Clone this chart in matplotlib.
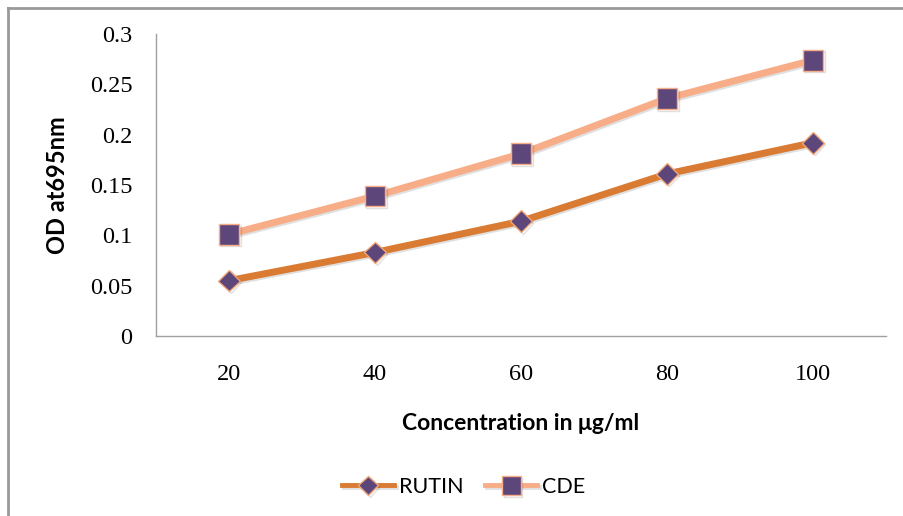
import matplotlib
matplotlib.use("Agg")
import matplotlib.pyplot as plt
from matplotlib.lines import Line2D
import matplotlib.patheffects as pe

concentrations = ["20", "40", "60", "80", "100"]
rutin = [0.055, 0.083, 0.114, 0.161, 0.192]
cde = [0.101, 0.139, 0.181, 0.236, 0.274]
y_ticks = [0, 0.05, 0.1, 0.15, 0.2, 0.25, 0.3]
y_tick_labels = ["0", "0.05", "0.1", "0.15", "0.2", "0.25", "0.3"]


def main():
    W, H = 904, 516
    fig = plt.figure(figsize=(W / 100, H / 100), dpi=100)
    ax = fig.add_axes([156 / W, 1 - 336 / H, 730 / W, 302 / H])

    # outer chart border (only top and left visible in the reference)
    fig.add_artist(Line2D([8 / W, 8 / W], [0, 1 - 8 / H], transform=fig.transFigure,
                          color="#999999", lw=2))
    fig.add_artist(Line2D([8 / W, 1], [1 - 8 / H, 1 - 8 / H], transform=fig.transFigure,
                          color="#999999", lw=2))

    x = range(len(concentrations))
    shadow = [pe.SimpleLineShadow(offset=(1.2, -1.2), alpha=0.12), pe.Normal()]
    ax.plot(x, rutin, color="#D97B32", lw=5, marker="D", ms=11,
            markerfacecolor="#5D467A", markeredgecolor="#F2A77A", markeredgewidth=1,
            label="RUTIN", path_effects=shadow, zorder=3)
    ax.plot(x, cde, color="#F7AE88", lw=5, marker="s", ms=15,
            markerfacecolor="#5D467A", markeredgecolor="#F7AE88", markeredgewidth=1,
            label="CDE", path_effects=shadow, zorder=3)

    ax.set_xlim(-0.5, len(concentrations) - 0.5)
    ax.set_ylim(0, 0.3)
    ax.set_xticks(list(x))
    ax.set_xticklabels(concentrations, family="Liberation Serif", fontsize=17.5)
    ax.set_yticks(y_ticks)
    ax.set_yticklabels(y_tick_labels, family="Liberation Serif", fontsize=17.5)
    ax.tick_params(axis="both", length=0)
    ax.tick_params(axis="x", pad=20)
    ax.tick_params(axis="y", pad=17)

    for side in ["top", "right"]:
        ax.spines[side].set_visible(False)
    for side in ["left", "bottom"]:
        ax.spines[side].set_color("#A0A0A0")
        ax.spines[side].set_linewidth(1)

    ax.set_xlabel("Concentration in μg/ml", family="Lato", fontweight="bold",
                  fontsize=16.5, labelpad=20)
    ax.set_ylabel("OD at695nm", family="Lato", fontweight="bold", fontsize=17,
                  labelpad=15)

    leg = fig.legend(loc="center", bbox_to_anchor=(464 / W, 1 - 487 / H), ncol=2,
                     frameon=False, prop={"family": "Lato", "size": 15.5},
                     handlelength=2.4, columnspacing=1.0, handletextpad=0.25,
                     markerscale=0.9)
    for line in leg.get_lines():
        line.set_linewidth(3.5)

    fig.savefig("out.png", dpi=100, facecolor="white")


if __name__ == "__main__":
    main()
